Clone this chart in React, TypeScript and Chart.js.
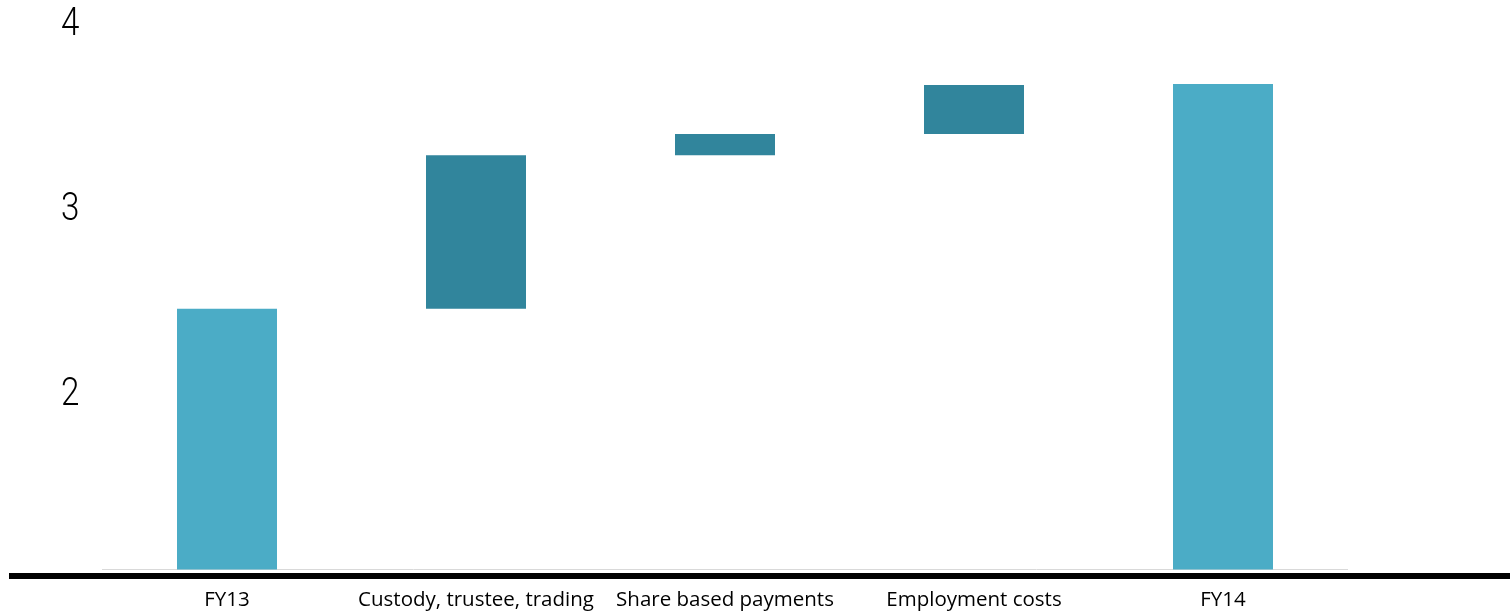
import React, { useEffect, useRef } from "react";
import { Chart, registerables } from "chart.js";

Chart.register(...registerables);

const categories = ["FY13", "Custody, trustee, trading", "Share based payments", "Employment costs", "FY14"];
const openingValue = 2.45;
const changeValues = [0.83, 0.115, 0.265];
const closingValue = 3.665;
const yTicks = [2, 3, 4];
const totalColor = "#4BACC6";
const changeColor = "#31859C";

const Y_MIN = 1.04;
const Y_MAX = 4;

function buildData() {
  const data: (number | [number, number])[] = [openingValue];
  let running = openingValue;
  for (const c of changeValues) {
    data.push([running, running + c]);
    running += c;
  }
  data.push(closingValue);
  return data;
}

const thickBaseline = {
  id: "thickBaseline",
  afterDraw(chart: any) {
    const { ctx, chartArea } = chart;
    ctx.save();
    ctx.fillStyle = "#000000";
    ctx.fillRect(9, chartArea.bottom + 3.5, chart.width - 9, 6);
    ctx.restore();
  },
};

// Draws the y tick labels (taken from the scale's own ticks) in a condensed style
const condensedYLabels = {
  id: "condensedYLabels",
  afterDraw(chart: any) {
    const { ctx } = chart;
    const s = chart.scales.y;
    ctx.save();
    ctx.fillStyle = "#000000";
    ctx.font = "300 39px Roboto, 'Liberation Sans', sans-serif";
    ctx.textAlign = "right";
    ctx.textBaseline = "middle";
    for (const t of s.ticks) {
      const y = s.getPixelForValue(t.value);
      ctx.save();
      ctx.translate(s.right - 23, y + 3);
      ctx.scale(0.85, 1);
      ctx.fillText(String(t.value), 0, 0);
      ctx.restore();
    }
    ctx.restore();
  },
};

export default function App() {
  const ref = useRef<HTMLCanvasElement | null>(null);
  useEffect(() => {
    if (!ref.current) return;
    const data = buildData();
    const colors = categories.map((_, i) => (i === 0 || i === categories.length - 1 ? totalColor : changeColor));
    const chart = new Chart(ref.current, {
      type: "bar",
      data: {
        labels: categories,
        datasets: [
          {
            data: data as any,
            backgroundColor: colors,
            borderWidth: 0,
            barPercentage: 0.4016,
            categoryPercentage: 1,
            borderSkipped: false,
          },
        ],
      },
      plugins: [thickBaseline, condensedYLabels],
      options: {
        animation: false,
        responsive: true,
        maintainAspectRatio: false,
        layout: { padding: { top: 22, right: 162.5, bottom: 0, left: 0 } },
        plugins: { legend: { display: false }, tooltip: { enabled: false } },
        scales: {
          x: {
            grid: { display: false, drawTicks: false },
            border: { display: true, color: "#D9D9D9", width: 1 },
            ticks: {
              color: "#000000",
              padding: 18,
              maxRotation: 0,
              autoSkip: false,
              font: { family: "'Open Sans', 'Noto Sans', sans-serif", size: 20.5 },
            },
            afterFit(scale: any) {
              scale.height = 44.5;
            },
          },
          y: {
            min: Y_MIN,
            max: Y_MAX,
            grid: { display: false, drawTicks: false },
            border: { display: false },
            afterBuildTicks(scale: any) {
              scale.ticks = yTicks.map((v) => ({ value: v }));
            },
            afterFit(scale: any) {
              scale.width = 102.5;
            },
            ticks: {
              color: "rgba(0,0,0,0)",
              padding: 0,
              font: { family: "Roboto, sans-serif", size: 8, lineHeight: 1 },
            },
          },
        },
      },
    });
    return () => chart.destroy();
  }, []);
  return (
    <div style={{ position: "absolute", left: 0, top: 0, width: 1510, height: 614, background: "#fff" }}>
      <canvas ref={ref} />
    </div>
  );
}
